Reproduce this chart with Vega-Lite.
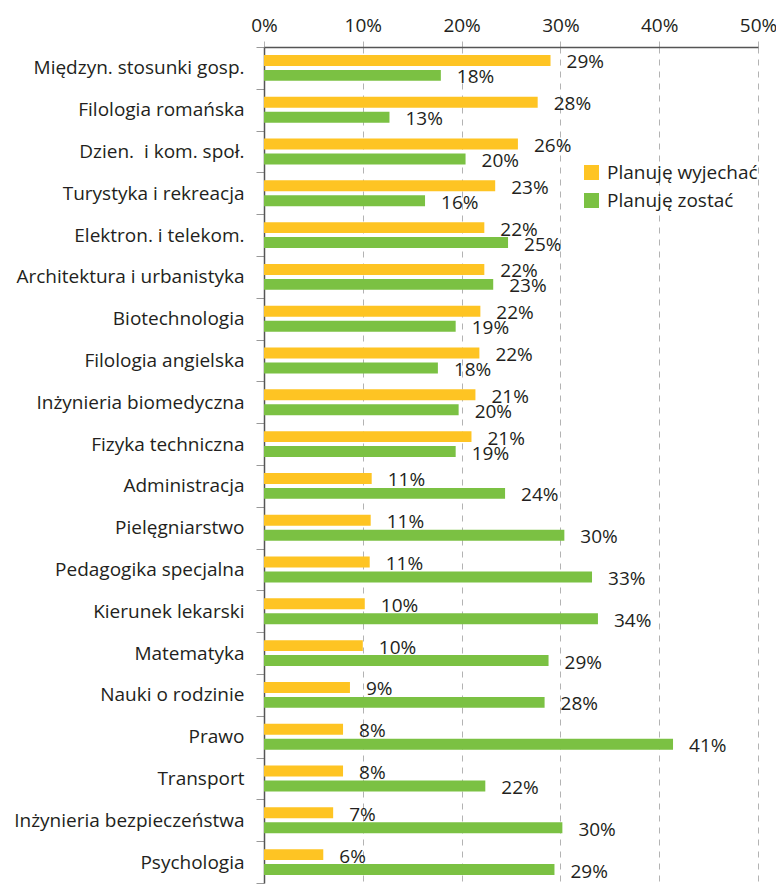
{
  "$schema": "https://vega.github.io/schema/vega-lite/v6.json",
  "width": 494,
  "height": 836,
  "autosize": {"type": "none"},
  "padding": {"left": 264, "top": 47, "right": 18, "bottom": 2},
  "config": {
    "view": {"stroke": null},
    "font": "Open Sans",
    "axis": {"labelFont": "Open Sans", "labelColor": "#231f20"},
    "legend": {"labelFont": "Open Sans", "labelColor": "#231f20"}
  },
  "data": {
    "values": [
      {"kierunek": "Międzyn. stosunki gosp.", "seria": "Planuję wyjechać", "wartosc": 0.290},
      {"kierunek": "Międzyn. stosunki gosp.", "seria": "Planuję zostać", "wartosc": 0.179},
      {"kierunek": "Filologia romańska", "seria": "Planuję wyjechać", "wartosc": 0.277},
      {"kierunek": "Filologia romańska", "seria": "Planuję zostać", "wartosc": 0.127},
      {"kierunek": "Dzien. \u00a0i kom. społ.", "seria": "Planuję wyjechać", "wartosc": 0.257},
      {"kierunek": "Dzien. \u00a0i kom. społ.", "seria": "Planuję zostać", "wartosc": 0.204},
      {"kierunek": "Turystyka i rekreacja", "seria": "Planuję wyjechać", "wartosc": 0.234},
      {"kierunek": "Turystyka i rekreacja", "seria": "Planuję zostać", "wartosc": 0.163},
      {"kierunek": "Elektron. i telekom.", "seria": "Planuję wyjechać", "wartosc": 0.223},
      {"kierunek": "Elektron. i telekom.", "seria": "Planuję zostać", "wartosc": 0.247},
      {"kierunek": "Architektura i urbanistyka", "seria": "Planuję wyjechać", "wartosc": 0.223},
      {"kierunek": "Architektura i urbanistyka", "seria": "Planuję zostać", "wartosc": 0.232},
      {"kierunek": "Biotechnologia", "seria": "Planuję wyjechać", "wartosc": 0.219},
      {"kierunek": "Biotechnologia", "seria": "Planuję zostać", "wartosc": 0.194},
      {"kierunek": "Filologia angielska", "seria": "Planuję wyjechać", "wartosc": 0.218},
      {"kierunek": "Filologia angielska", "seria": "Planuję zostać", "wartosc": 0.176},
      {"kierunek": "Inżynieria biomedyczna", "seria": "Planuję wyjechać", "wartosc": 0.214},
      {"kierunek": "Inżynieria biomedyczna", "seria": "Planuję zostać", "wartosc": 0.197},
      {"kierunek": "Fizyka techniczna", "seria": "Planuję wyjechać", "wartosc": 0.210},
      {"kierunek": "Fizyka techniczna", "seria": "Planuję zostać", "wartosc": 0.194},
      {"kierunek": "Administracja", "seria": "Planuję wyjechać", "wartosc": 0.109},
      {"kierunek": "Administracja", "seria": "Planuję zostać", "wartosc": 0.244},
      {"kierunek": "Pielęgniarstwo", "seria": "Planuję wyjechać", "wartosc": 0.108},
      {"kierunek": "Pielęgniarstwo", "seria": "Planuję zostać", "wartosc": 0.304},
      {"kierunek": "Pedagogika specjalna", "seria": "Planuję wyjechać", "wartosc": 0.107},
      {"kierunek": "Pedagogika specjalna", "seria": "Planuję zostać", "wartosc": 0.332},
      {"kierunek": "Kierunek lekarski", "seria": "Planuję wyjechać", "wartosc": 0.102},
      {"kierunek": "Kierunek lekarski", "seria": "Planuję zostać", "wartosc": 0.338},
      {"kierunek": "Matematyka", "seria": "Planuję wyjechać", "wartosc": 0.100},
      {"kierunek": "Matematyka", "seria": "Planuję zostać", "wartosc": 0.288},
      {"kierunek": "Nauki o rodzinie", "seria": "Planuję wyjechać", "wartosc": 0.087},
      {"kierunek": "Nauki o rodzinie", "seria": "Planuję zostać", "wartosc": 0.284},
      {"kierunek": "Prawo", "seria": "Planuję wyjechać", "wartosc": 0.080},
      {"kierunek": "Prawo", "seria": "Planuję zostać", "wartosc": 0.414},
      {"kierunek": "Transport", "seria": "Planuję wyjechać", "wartosc": 0.080},
      {"kierunek": "Transport", "seria": "Planuję zostać", "wartosc": 0.224},
      {"kierunek": "Inżynieria bezpieczeństwa", "seria": "Planuję wyjechać", "wartosc": 0.070},
      {"kierunek": "Inżynieria bezpieczeństwa", "seria": "Planuję zostać", "wartosc": 0.302},
      {"kierunek": "Psychologia", "seria": "Planuję wyjechać", "wartosc": 0.060},
      {"kierunek": "Psychologia", "seria": "Planuję zostać", "wartosc": 0.294}
    ]
  },
  "encoding": {
    "y": {
      "field": "kierunek",
      "type": "nominal",
      "sort": null,
      "title": null,
      "scale": {"paddingInner": 0, "paddingOuter": 0},
      "axis": {
        "orient": "left",
        "domainColor": "#555555",
        "domainWidth": 1.5,
        "tickBand": "extent",
        "tickColor": "#999999",
        "tickSize": 8,
        "labelFontSize": 19,
        "labelPadding": 12,
        "labelLimit": 400
      }
    },
    "yOffset": {
      "field": "seria",
      "type": "nominal",
      "sort": ["Planuję wyjechać", "Planuję zostać"],
      "scale": {"paddingInner": 0.267, "paddingOuter": 0.533}
    },
    "x": {
      "field": "wartosc",
      "type": "quantitative",
      "title": null,
      "scale": {"domain": [0, 0.5]},
      "axis": {
        "orient": "top",
        "format": ".0%",
        "values": [0, 0.1, 0.2, 0.3, 0.4, 0.5],
        "domainColor": "#555555",
        "domainWidth": 1.5,
        "grid": true,
        "gridColor": "#b3b3b3",
        "gridDash": [6, 6],
        "tickColor": "#b3b3b3",
        "tickDash": [6, 6],
        "tickSize": 7,
        "labelFontSize": 19,
        "labelPadding": 5,
        "labelFlush": false
      }
    }
  },
  "layer": [
    {
      "mark": {"type": "bar"},
      "encoding": {
        "color": {
          "field": "seria",
          "type": "nominal",
          "sort": ["Planuję wyjechać", "Planuję zostać"],
          "scale": {"domain": ["Planuję wyjechać", "Planuję zostać"], "range": ["#fec423", "#7bc143"]},
          "legend": {
            "title": null,
            "orient": "none",
            "legendX": 318,
            "legendY": 116,
            "symbolType": "square",
            "symbolSize": 225,
            "symbolStrokeWidth": 0,
            "labelFontSize": 19,
            "labelOffset": 6,
            "rowPadding": 8
          }
        }
      }
    },
    {
      "mark": {"type": "text", "align": "left", "baseline": "middle", "dx": 16, "dy": 2, "fontSize": 19, "color": "#231f20"},
      "encoding": {
        "text": {"field": "wartosc", "type": "quantitative", "format": ".0%"}
      }
    }
  ]
}
